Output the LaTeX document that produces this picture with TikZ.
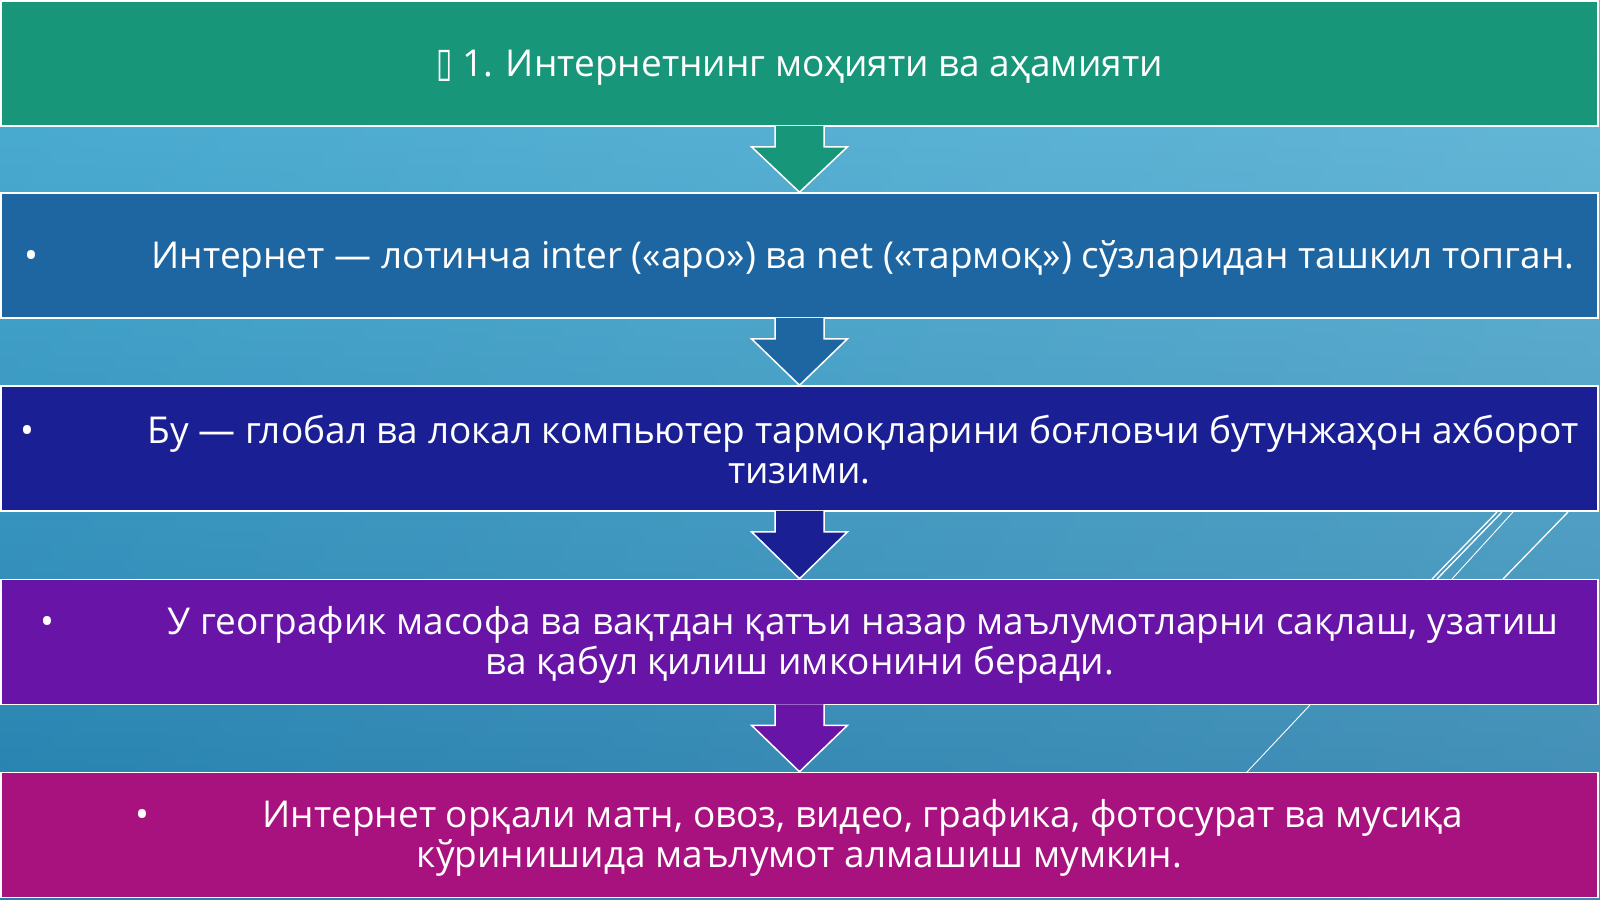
\documentclass[tikz,border=0pt]{standalone}
\usepackage{fontspec}
\setmainfont{Open Sans}
\newfontfamily\boxfont{DejaVu Sans}
\usetikzlibrary{calc}
\definecolor{bgtop}{RGB}{80,178,214}
\definecolor{bgbot}{RGB}{28,116,164}
\definecolor{bandteal}{RGB}{24,150,122}
\definecolor{bandblue}{RGB}{30,102,162}
\definecolor{banddeep}{RGB}{26,32,148}
\definecolor{bandviolet}{RGB}{104,20,166}
\definecolor{bandmagenta}{RGB}{168,18,126}
\begin{document}
\begin{tikzpicture}[x=1pt,y=-1pt,
    band/.style={draw=white,line width=1.5pt,minimum width=1597pt,minimum height=125pt,inner sep=0pt},
    bandtext/.style={inner sep=0pt,text=white,align=center,font=\fontsize{37}{40}\selectfont},
    deco/.style={white,line width=1.3pt}]
    \useasboundingbox (0,0) rectangle (1600,899);
    \shade[top color=bgtop,bottom color=bgbot] (0,0) rectangle (1600,899);
    \shade[left color=bgtop,right color=white,opacity=0.15] (0,0) rectangle (1600,899);

    % theme lines behind the bands
    \draw[deco] (1432,579) -- (1497,512);
    \draw[deco] (1437,579) -- (1502,512);
    \draw[deco,line width=0.9pt] (1452,579) -- (1513,512);
    \draw[deco] (1503,579) -- (1568,512);
    \draw[deco,line width=0.9pt] (1247,772) -- (1310,705);

    \node[band,fill=bandteal] (b1) at (799.5,63.5) {};
    \node[band,fill=bandblue] (b2) at (799.5,255.5) {};
    \node[band,fill=banddeep] (b3) at (799.5,448.5) {};
    \node[band,fill=bandviolet] (b4) at (799.5,642) {};
    \node[band,fill=bandmagenta] (b5) at (799.5,835) {};

    \node[bandtext] (t1) at ([yshift=-4pt]b1.center)
      {{\boxfont\scalebox{0.8}[1.1]{▯}} 1. Интернетнинг моҳияти ва аҳамияти};
    \node[bandtext] (t2) at ([yshift=-3pt]b2.center)
      {•\hspace{113pt}Интернет — лотинча inter («аро») ва net («тармоқ») сўзларидан ташкил топган.};
    \node[bandtext] (t3) at ([yshift=-1.5pt]b3.center)
      {•\hspace{113pt}Бу — глобал ва локал компьютер тармоқларини боғловчи бутунжаҳон ахборот\\ тизими.};
    \node[bandtext] (t4) at ([yshift=-3pt]b4.center)
      {•\hspace{113pt}У географик масофа ва вақтдан қатъи назар маълумотларни сақлаш, узатиш\\ ва қабул қилиш имконини беради.};
    \node[bandtext] (t5) at ([yshift=-3pt]b5.center)
      {•\hspace{113pt}Интернет орқали матн, овоз, видео, графика, фотосурат ва мусиқа\\ кўринишида маълумот алмашиш мумкин.};

    \foreach \a/\b/\c in {b1/b2/bandteal,b2/b3/bandblue,b3/b4/banddeep,b4/b5/bandviolet}{
      \fill[\c] ($(\a.south)+(-24.5,-1)$) -- ++(0,21) -- ++(-23.5,0) -- (\b.north)
        -- ($(\a.south)+(48,20)$) -- ++(-23.5,0) -- ++(0,-21) -- cycle;
      \draw[white,line width=1.5pt] ($(\a.south)+(-24.5,-1)$) -- ++(0,21) -- ++(-23.5,0) -- (\b.north)
        -- ($(\a.south)+(48,20)$) -- ++(-23.5,0) -- ++(0,-21);
    }
\end{tikzpicture}
\end{document}
